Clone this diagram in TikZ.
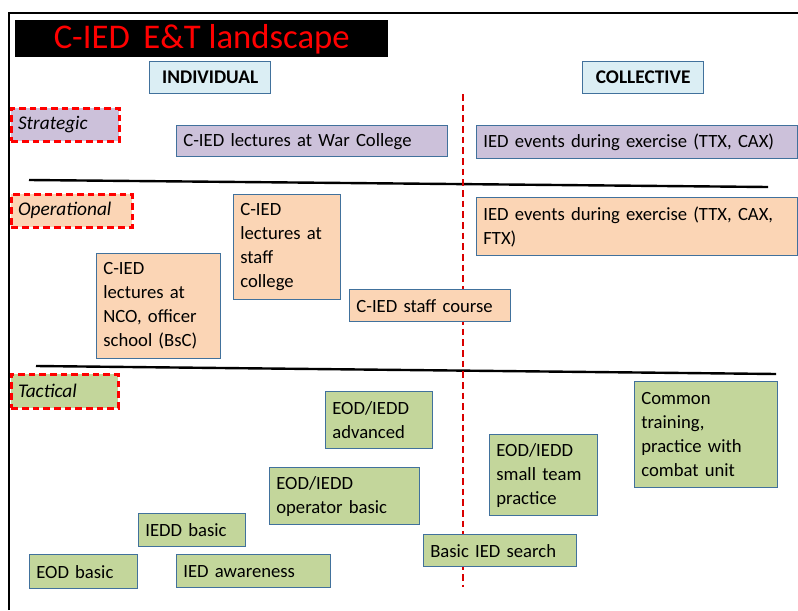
\documentclass[tikz,border=0pt]{standalone}
\usepackage{fontspec}
\setmainfont{Carlito}
\definecolor{lavender}{RGB}{204,193,218}
\definecolor{peach}{RGB}{251,213,181}
\definecolor{olivegreen}{RGB}{195,214,155}
\definecolor{paleblue}{RGB}{219,238,244}
\definecolor{boxblue}{RGB}{65,113,156}
\begin{document}
\begin{tikzpicture}[x=0.75pt, y=-0.75pt,
  course/.style={draw=boxblue, line width=1pt, anchor=north west, inner xsep=5pt, inner ysep=3pt,
    align=left, font=\fontsize{14}{18}\selectfont},
  level/.style={draw=red, line width=2pt, dash pattern=on 5pt off 3pt, anchor=north west,
    inner xsep=5pt, align=left, font=\fontsize{14.5}{18}\selectfont\itshape},
  header/.style={draw=boxblue, line width=1pt, fill=paleblue, anchor=north west, align=center,
    inner xsep=0pt, text width=90.75pt, minimum height=24pt, font=\fontsize{14.5}{18}\selectfont\bfseries}]
\useasboundingbox (0,0) rectangle (798,610);

% frame and title
\draw[line width=1.5pt] (9,610) -- (9,13) -- (798,13);
\node[fill=black, anchor=north west, minimum width=279.75pt, minimum height=27.75pt, inner sep=0pt,
  text=red, font=\fontsize{26}{30}\selectfont] (title) at (15,20) {C-IED\, E\&T landscape};

\node[header] (individual) at (149,61) {INDIVIDUAL};
\node[header] (collective) at (582,61) {COLLECTIVE};

% levels
\draw[line width=1.8pt] (29,180) -- (768,187);
\draw[line width=1.8pt] (36,366) -- (776,374);
\draw[red!85!black, line width=1pt, dash pattern=on 5pt off 3pt] (463,94) -- (463,587);

\node[level, fill=lavender, text width=71pt, minimum height=24.75pt] (strategic) at (10,107) {Strategic};
\node[level, fill=peach, text width=80.75pt, minimum height=24.75pt] (operational) at (10,193) {Operational};
\node[level, fill=olivegreen, text width=70.25pt, minimum height=25.5pt] (tactical) at (10,373) {Tactical};

% strategic
\node[course, fill=lavender, text width=193.25pt, minimum height=23.25pt] (warcollege) at (176,125) {C-IED lectures at War College};
\node[course, fill=lavender, text width=230.75pt, minimum height=24.75pt] (stratexercise) at (476,125) {IED events during exercise (TTX, CAX)};

% operational
\node[course, fill=peach, text width=230.75pt, minimum height=43.5pt] (opexercise) at (476,197) {IED events during exercise (TTX, CAX,\\FTX)};
\node[course, fill=peach, text width=70.25pt, minimum height=78.75pt] (staffcollege) at (233,194) {C-IED\\lectures at\\staff\\college};
\node[course, fill=peach, text width=83pt, minimum height=78.75pt] (nco) at (96,253) {C-IED\\lectures at\\NCO, officer\\school (BsC)};
\node[course, fill=peach, text width=110.75pt, minimum height=24pt] (staffcourse) at (349,289) {C-IED staff course};

% tactical
\node[course, fill=olivegreen, text width=70.25pt, minimum height=42.75pt] (advanced) at (325,391) {EOD/IEDD\\advanced};
\node[course, fill=olivegreen, text width=102.5pt, minimum height=42.75pt] (operator) at (269,467) {EOD/IEDD\\operator basic};
\node[course, fill=olivegreen, text width=70.25pt, minimum height=24.75pt] (ieddbasic) at (138,513) {IEDD basic};
\node[course, fill=olivegreen, text width=71pt, minimum height=25.5pt] (eodbasic) at (29,554) {EOD basic};
\node[course, fill=olivegreen, text width=105.5pt, minimum height=24.75pt] (awareness) at (176,554) {IED awareness};
\node[course, fill=olivegreen, text width=104.75pt, minimum height=24pt] (search) at (423,534) {Basic IED search};
\node[course, fill=olivegreen, text width=71pt, minimum height=60.75pt] (smallteam) at (489,434) {EOD/IEDD\\small team\\practice};
\node[course, fill=olivegreen, text width=97.25pt, minimum height=79.5pt] (common) at (634,381) {Common\\training,\\practice with\\combat unit};
\end{tikzpicture}
\end{document}
